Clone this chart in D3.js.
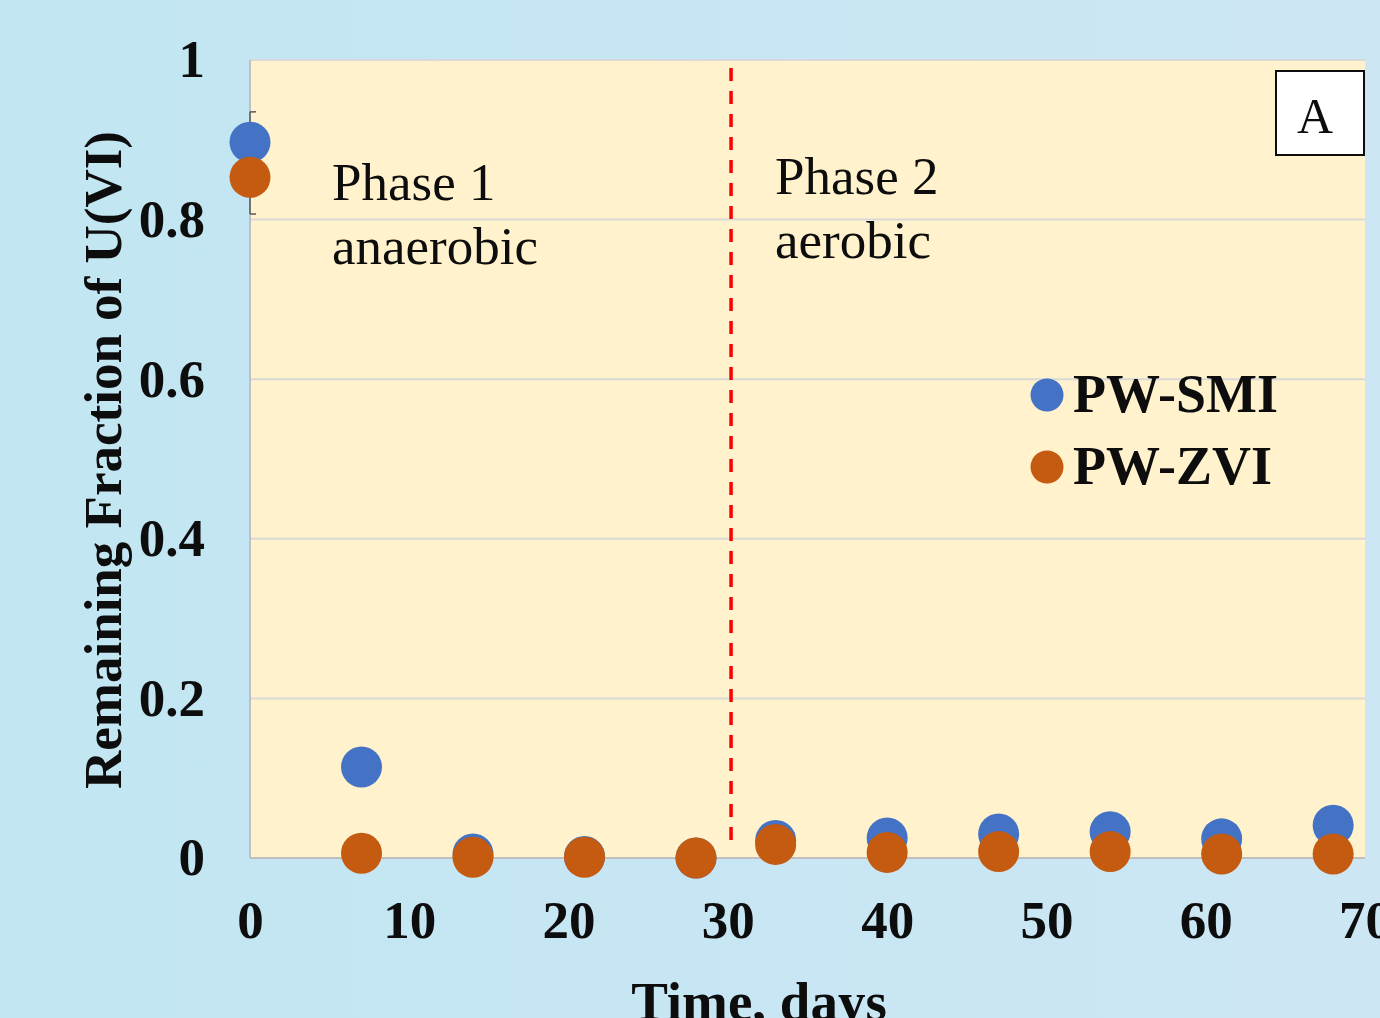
<!DOCTYPE html>
<html>
<head>
<meta charset="utf-8">
<script src="https://cdn.jsdelivr.net/npm/d3@7"></script>
<style>
  html, body { margin: 0; padding: 0; overflow: hidden; }
  svg { display: block; }
</style>
</head>
<body>
<div id="chart"></div>
<script>
// data
var days = [0, 7, 14, 21, 28, 33, 40, 47, 54, 61, 68];
var smiValues = [0.897, 0.114, 0.005, 0.002, 0.0, 0.022, 0.025, 0.030, 0.033, 0.024, 0.041];
var zviValues = [0.853, 0.006, 0.001, 0.001, 0.0, 0.017, 0.007, 0.008, 0.008, 0.005, 0.005];
var seriesNames = ["PW-SMI", "PW-ZVI"];
var seriesColors = ["#4472c4", "#c55a11"];
var errorBar = {day: 0, low: 0.807, high: 0.935};
var phaseBoundary = 30.2;
var xTicks = [0, 10, 20, 30, 40, 50, 60, 70];
var yTicks = [0, 0.2, 0.4, 0.6, 0.8, 1];

var W = 1380, H = 1018;
var plot = {left: 250, right: 1365, top: 60, bottom: 858};
var serif = "'Liberation Serif', 'Times New Roman', serif";

var svg = d3.select("#chart").append("svg")
    .attr("width", W)
    .attr("height", H);

// background gradient
var defs = svg.append("defs");
var grad = defs.append("linearGradient").attr("id", "bg")
    .attr("x1", "0").attr("y1", "0").attr("x2", "1").attr("y2", "0");
grad.append("stop").attr("offset", "0%").attr("stop-color", "#c1e6f2");
grad.append("stop").attr("offset", "100%").attr("stop-color", "#cde6f4");
svg.append("rect").attr("width", W).attr("height", H).attr("fill", "url(#bg)");

var x = d3.scaleLinear().domain([0, 70]).range([plot.left, plot.right]);
var y = d3.scaleLinear().domain([0, 1]).range([plot.bottom, plot.top]);

// plot area
svg.append("rect")
    .attr("x", plot.left).attr("y", plot.top)
    .attr("width", plot.right - plot.left)
    .attr("height", plot.bottom - plot.top)
    .attr("fill", "#fff2cc");

// gridlines
svg.append("g").selectAll("line")
    .data(yTicks.filter(d => d > 0))
    .join("line")
    .attr("x1", plot.left).attr("x2", plot.right)
    .attr("y1", d => y(d)).attr("y2", d => y(d))
    .attr("stroke", "#d9d9d9").attr("stroke-width", 2);

// axes lines
svg.append("line")
    .attr("x1", plot.left).attr("x2", plot.left)
    .attr("y1", plot.top).attr("y2", plot.bottom)
    .attr("stroke", "#bfbfbf").attr("stroke-width", 2);
svg.append("line")
    .attr("x1", plot.left).attr("x2", plot.right)
    .attr("y1", plot.bottom).attr("y2", plot.bottom)
    .attr("stroke", "#bfbfbf").attr("stroke-width", 2);

// y tick labels
var yAxis = d3.axisLeft(y).tickValues(yTicks).tickSize(0).tickPadding(45)
    .tickFormat(d => d === 0 ? "0" : d === 1 ? "1" : d3.format(".1f")(d));
var gy = svg.append("g").attr("transform", "translate(" + plot.left + ",0)").call(yAxis);
gy.select(".domain").remove();
gy.selectAll("text")
    .attr("font-family", serif).attr("font-weight", "bold")
    .attr("font-size", 53).attr("fill", "#0d0d0d");

// x tick labels
var xAxis = d3.axisBottom(x).tickValues(xTicks).tickSize(0).tickPadding(42);
var gx = svg.append("g").attr("transform", "translate(0," + plot.bottom + ")").call(xAxis);
gx.select(".domain").remove();
gx.selectAll("text")
    .attr("font-family", serif).attr("font-weight", "bold")
    .attr("font-size", 53).attr("fill", "#0d0d0d");

// axis titles
svg.append("text")
    .attr("x", 759).attr("y", 1020)
    .attr("text-anchor", "middle")
    .attr("font-family", serif).attr("font-weight", "bold").attr("font-size", 55)
    .attr("fill", "#0d0d0d")
    .text("Time, days");
svg.append("text")
    .attr("transform", "translate(121,460) rotate(-90)")
    .attr("text-anchor", "middle")
    .attr("font-family", serif).attr("font-weight", "bold").attr("font-size", 53)
    .attr("fill", "#0d0d0d")
    .text("Remaining Fraction of U(VI)");

// phase divider
svg.append("line")
    .attr("x1", x(phaseBoundary)).attr("x2", x(phaseBoundary))
    .attr("y1", y(0.99)).attr("y2", y(0.022))
    .attr("stroke", "#ff0000").attr("stroke-width", 3.5)
    .attr("stroke-dasharray", "13,10");

// phase labels
var phaseText = [
  {x: 332, y: 200, lines: ["Phase 1", "anaerobic"]},
  {x: 775, y: 194, lines: ["Phase 2", "aerobic"]}
];
phaseText.forEach(function(p) {
  p.lines.forEach(function(t, i) {
    svg.append("text")
        .attr("x", p.x).attr("y", p.y + i * 64)
        .attr("font-family", serif).attr("font-size", 53)
        .attr("fill", "#0d0d0d")
        .text(t);
  });
});

// panel label
svg.append("rect")
    .attr("x", 1276).attr("y", 71).attr("width", 88).attr("height", 84)
    .attr("fill", "#ffffff").attr("stroke", "#0d0d0d").attr("stroke-width", 2);
svg.append("text")
    .attr("x", 1315).attr("y", 133).attr("text-anchor", "middle")
    .attr("font-family", serif).attr("font-size", 50).attr("fill", "#0d0d0d")
    .text("A");

// error bar
var eb = svg.append("g").attr("stroke", "#595959").attr("stroke-width", 1.5);
eb.append("line")
    .attr("x1", x(errorBar.day)).attr("x2", x(errorBar.day))
    .attr("y1", y(errorBar.high)).attr("y2", y(errorBar.low));
eb.selectAll(".cap").data([errorBar.high, errorBar.low]).join("line")
    .attr("class", "cap")
    .attr("x1", x(errorBar.day)).attr("x2", x(errorBar.day) + 6)
    .attr("y1", d => y(d)).attr("y2", d => y(d));

// points
var series = [smiValues, zviValues];
series.forEach(function(vals, i) {
  svg.append("g").selectAll("circle")
      .data(days.map((d, j) => ({day: d, value: vals[j]})))
      .join("circle")
      .attr("cx", d => x(d.day))
      .attr("cy", d => y(d.value))
      .attr("r", 20.5)
      .attr("fill", seriesColors[i]);
});

// legend
var legend = svg.append("g");
seriesNames.forEach(function(name, i) {
  legend.append("circle")
      .attr("cx", 1047).attr("cy", 395 + i * 72).attr("r", 16.5)
      .attr("fill", seriesColors[i]);
  legend.append("text")
      .attr("x", 1073).attr("y", 412 + i * 72)
      .attr("font-family", serif).attr("font-weight", "bold").attr("font-size", 54)
      .attr("fill", "#0d0d0d")
      .text(name);
});
</script>
</body>
</html>
